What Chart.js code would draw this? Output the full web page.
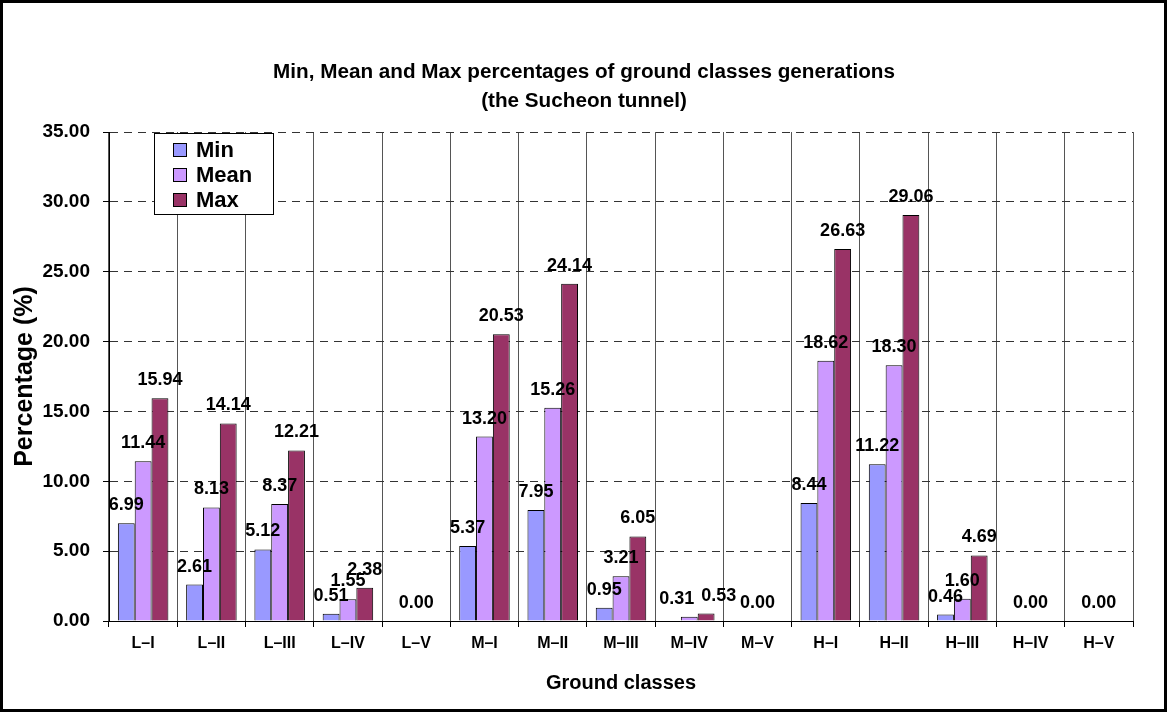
<!DOCTYPE html>
<html>
<head>
<meta charset="utf-8">
<script src="https://cdn.jsdelivr.net/npm/chart.js@4/dist/chart.umd.min.js"></script>
<style>
  html, body { margin: 0; padding: 0; background: #fff; }
  #wrap { width: 1168px; height: 713px; position: relative; }
</style>
</head>
<body>
<div id="wrap"><canvas id="c" width="1168" height="713"></canvas></div>
<script>
const categories = ['L\u2013I','L\u2013II','L\u2013III','L\u2013IV','L\u2013V','M\u2013I','M\u2013II','M\u2013III','M\u2013IV','M\u2013V','H\u2013I','H\u2013II','H\u2013III','H\u2013IV','H\u2013V'];
const minValues  = [6.99, 2.61, 5.12, 0.51, 0.00, 5.37, 7.95, 0.95, 0.00, 0.00, 8.44, 11.22, 0.46, 0.00, 0.00];
const meanValues = [11.44, 8.13, 8.37, 1.55, 0.00, 13.20, 15.26, 3.21, 0.31, 0.00, 18.62, 18.30, 1.60, 0.00, 0.00];
const maxValues  = [15.94, 14.14, 12.21, 2.38, 0.00, 20.53, 24.14, 6.05, 0.53, 0.00, 26.63, 29.06, 4.69, 0.00, 0.00];
const seriesNames = ['Min', 'Mean', 'Max'];
const titleLines = ['Min, Mean and Max percentages of ground classes generations', '(the Sucheon tunnel)'];
const yTitle = 'Percentage (%)';
const xTitle = 'Ground classes';

const FONT = 'Arial, "Liberation Sans", Helvetica, sans-serif';

const frame = {
  id: 'frame',
  beforeDraw(chart) {
    const ctx = chart.ctx;
    ctx.save();
    ctx.fillStyle = '#fff';
    ctx.fillRect(0, 0, chart.width, chart.height);
    ctx.restore();
  },
  afterDraw(chart) {
    const ctx = chart.ctx;
    ctx.save();
    ctx.strokeStyle = '#000';
    ctx.lineWidth = 3;
    ctx.strokeRect(1.5, 1.5, chart.width - 4, chart.height - 4);
    ctx.restore();
  }
};

const valueLabels = {
  id: 'valueLabels',
  afterDatasetsDraw(chart) {
    const ctx = chart.ctx;
    ctx.save();
    ctx.font = 'bold 18px ' + FONT;
    ctx.fillStyle = '#000';
    ctx.textAlign = 'center';
    ctx.textBaseline = 'middle';
    const n = chart.data.labels.length;
    for (let i = 0; i < n; i++) {
      const items = [];
      chart.data.datasets.forEach((ds, di) => {
        const v = ds.data[i];
        if (v === 0 && di !== 1) return;
        const bar = chart.getDatasetMeta(di).data[i];
        const text = v.toFixed(2);
        items.push({ text, x: bar.x, y: bar.y - 18, w: ctx.measureText(text).width });
      });
      // simple collision avoidance between neighbouring labels
      for (let k = 1; k < items.length; k++) {
        const a = items[k - 1], b = items[k];
        if (Math.abs(a.y - b.y) < 10) {
          const need = (a.w + b.w) / 2 + 7;
          const gap = b.x - a.x;
          if (gap < need) {
            const shift = (need - gap) / 2;
            a.x -= shift;
            b.x += shift;
          }
        }
      }
      items.forEach(it => ctx.fillText(it.text, it.x, it.y));
    }
    ctx.restore();
  }
};

const boxLegend = {
  id: 'boxLegend',
  afterDraw(chart) {
    const ctx = chart.ctx;
    const a = chart.chartArea;
    const x0 = a.left + 45, y0 = a.top + 1, w = 119, h = 81;
    ctx.save();
    ctx.fillStyle = '#fff';
    ctx.fillRect(x0, y0, w, h);
    ctx.strokeStyle = '#000';
    ctx.lineWidth = 1;
    ctx.strokeRect(x0 + 0.5, y0 + 0.5, w, h);
    ctx.font = 'bold 22px ' + FONT;
    ctx.textBaseline = 'middle';
    ctx.textAlign = 'left';
    chart.data.datasets.forEach((ds, i) => {
      const cy = y0 + 17 + i * 25;
      ctx.fillStyle = ds.backgroundColor;
      ctx.fillRect(x0 + 19, cy - 7, 13, 13);
      ctx.strokeStyle = '#000';
      ctx.strokeRect(x0 + 19.5, cy - 6.5, 13, 13);
      ctx.fillStyle = '#000';
      ctx.fillText(ds.label, x0 + 42, cy + 1);
    });
    ctx.restore();
  }
};

const colors = ['#9999FF', '#CC99FF', '#993366'];
const dataSeries = [minValues, meanValues, maxValues];

new Chart(document.getElementById('c'), {
  type: 'bar',
  data: {
    labels: categories,
    datasets: dataSeries.map((d, i) => ({
      label: seriesNames[i],
      data: d,
      backgroundColor: colors[i],
      borderColor: '#000',
      borderWidth: 1,
      barPercentage: 1.0,
      categoryPercentage: 0.74
    }))
  },
  options: {
    responsive: false,
    animation: false,
    devicePixelRatio: 1,
    layout: { padding: { left: 5, right: 5, top: 5, bottom: 5 } },
    plugins: {
      legend: { display: false },
      tooltip: { enabled: false },
      title: {
        display: true,
        text: titleLines,
        color: '#000',
        font: { family: FONT, size: 20.7, weight: 'bold', lineHeight: '29px' },
        padding: { top: 53, bottom: 16 }
      }
    },
    scales: {
      x: {
        grid: {
          display: true,
          offset: true,
          color: '#555',
          lineWidth: 1,
          drawTicks: true,
          tickLength: 6,
          tickColor: '#000'
        },
        border: { display: true, color: '#000', width: 1 },
        ticks: {
          color: '#000',
          font: { family: FONT, size: 16, weight: 'bold' },
          padding: 7,
          maxRotation: 0,
          autoSkip: false
        },
        title: {
          display: true,
          text: xTitle,
          color: '#000',
          font: { family: FONT, size: 20, weight: 'bold', lineHeight: 1.2 },
          padding: { top: 0, bottom: 13 }
        },
        afterFit(scale) { scale.height = 713 - 621 - 5; }
      },
      y: {
        min: 0,
        max: 35,
        ticks: {
          stepSize: 5,
          color: '#000',
          font: { family: FONT, size: 19, weight: 'bold' },
          padding: 13,
          callback: (v) => Number(v).toFixed(2)
        },
        grid: {
          color: '#333',
          lineWidth: 1,
          drawTicks: true,
          tickLength: 6,
          tickColor: '#000',
          tickBorderDash: []
        },
        border: { display: true, color: '#000', width: 1, dash: [8, 6] },
        title: {
          display: true,
          text: yTitle,
          color: '#000',
          font: { family: FONT, size: 25, weight: 'bold', lineHeight: 1.2 },
          padding: { top: 5, bottom: 0 }
        },
        afterFit(scale) { scale.width = 109 - 5; }
      },
      yRightSpace: {
        position: 'right',
        display: true,
        min: 0,
        max: 35,
        grid: { display: false, drawTicks: false },
        border: { display: false },
        ticks: { display: false },
        afterFit(scale) { scale.width = 1168 - 1133 - 5; }
      }
    }
  },
  plugins: [frame, valueLabels, boxLegend]
});
</script>
</body>
</html>
